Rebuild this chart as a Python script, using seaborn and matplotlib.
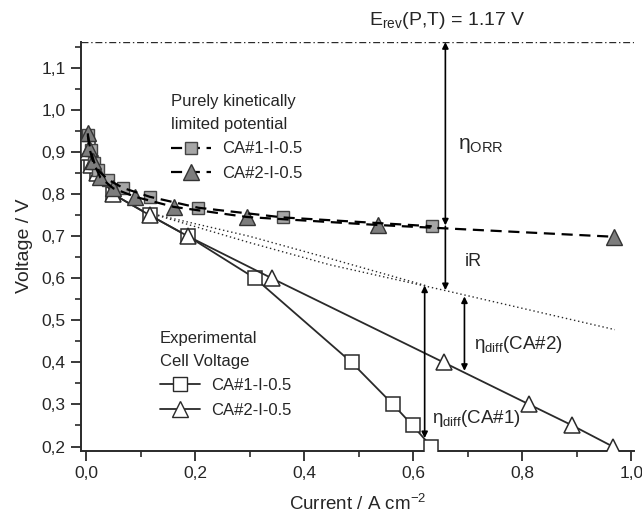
import numpy as np
import seaborn as sns
import matplotlib.pyplot as plt
from matplotlib.lines import Line2D
from matplotlib.ticker import FuncFormatter, MultipleLocator

# kinetically limited potential (grey filled markers, dashed)
kin_ca1_x = [0.003, 0.008, 0.015, 0.022, 0.04, 0.068, 0.117, 0.206, 0.361, 0.634]
kin_ca1_y = [0.94, 0.905, 0.875, 0.857, 0.835, 0.815, 0.794, 0.768, 0.745, 0.724]
kin_ca2_x = [0.003, 0.006, 0.012, 0.026, 0.05, 0.09, 0.161, 0.295, 0.535, 0.968]
kin_ca2_y = [0.945, 0.91, 0.88, 0.84, 0.814, 0.794, 0.77, 0.746, 0.727, 0.699]

# experimental cell voltage (open markers, solid)
exp_ca1_x = [0.003, 0.008, 0.02, 0.05, 0.117, 0.187, 0.31, 0.487, 0.563, 0.599, 0.633]
exp_ca1_y = [0.91, 0.875, 0.85, 0.80, 0.75, 0.70, 0.60, 0.40, 0.30, 0.25, 0.20]
exp_ca2_x = [0.003, 0.008, 0.02, 0.05, 0.117, 0.187, 0.341, 0.656, 0.813, 0.892, 0.966]
exp_ca2_y = [0.90, 0.87, 0.85, 0.80, 0.75, 0.70, 0.60, 0.40, 0.30, 0.25, 0.20]

# iR corrected kinetic lines (dotted)
ir_ca1_x = [0.117, 0.30, 0.448, 0.625]
ir_ca1_y = [0.755, 0.70, 0.647, 0.582]
ir_ca2_x = [0.117, 0.30, 0.448, 0.659, 0.97]
ir_ca2_y = [0.755, 0.685, 0.632, 0.571, 0.478]

e_rev = 1.162
legend_labels = ['CA#1-I-0.5', 'CA#2-I-0.5']

sns.set_style('ticks')
plt.rcParams['font.family'] = ['Liberation Sans', 'DejaVu Sans']
plt.rcParams['mathtext.fontset'] = 'custom'
plt.rcParams['mathtext.rm'] = 'Liberation Sans'
plt.rcParams['mathtext.it'] = 'Liberation Sans:italic'

fig, ax = plt.subplots(figsize=(6.42, 5.17), dpi=100)
fig.subplots_adjust(left=0.1257, right=0.9875, bottom=0.1282, top=0.9193)

dark = '#2a2a2a'
dash = (0, (5, 3))

# dotted iR-free lines
for xs, ys in [(ir_ca1_x, ir_ca1_y), (ir_ca2_x, ir_ca2_y)]:
    sns.lineplot(x=xs, y=ys, ax=ax, color=dark, lw=1.0, linestyle=(0, (1, 2)),
                 estimator=None, sort=False, zorder=2)

# experimental curves
sns.lineplot(x=exp_ca1_x, y=exp_ca1_y, ax=ax, color=dark, lw=1.3, marker='s', markersize=9.5,
             markerfacecolor='white', markeredgecolor=dark, markeredgewidth=1.1,
             estimator=None, sort=False, zorder=3)
sns.lineplot(x=exp_ca2_x, y=exp_ca2_y, ax=ax, color=dark, lw=1.3, marker='^', markersize=12,
             markerfacecolor='white', markeredgecolor=dark, markeredgewidth=1.1,
             estimator=None, sort=False, zorder=3)

# kinetic markers, then dashed lines on top
sns.lineplot(x=kin_ca1_x, y=kin_ca1_y, ax=ax, linestyle='', marker='s', markersize=9,
             markerfacecolor='#a6a6a6', markeredgecolor='#444444', markeredgewidth=1.0,
             estimator=None, sort=False, zorder=4)
sns.lineplot(x=kin_ca2_x, y=kin_ca2_y, ax=ax, linestyle='', marker='^', markersize=11,
             markerfacecolor='#7d7d7d', markeredgecolor='#333333', markeredgewidth=1.0,
             estimator=None, sort=False, zorder=4)
for xs, ys in [(kin_ca1_x, kin_ca1_y), (kin_ca2_x, kin_ca2_y)]:
    sns.lineplot(x=xs, y=ys, ax=ax, color='black', lw=1.6, linestyle=dash,
                 estimator=None, sort=False, zorder=5)

ax.axhline(e_rev, color=dark, lw=1.0, linestyle=(0, (5, 2, 1, 2)), zorder=1)

ax.set_xlim(-0.01, 1.005)
ax.set_ylim(0.19, 1.163)
sns.despine(ax=ax)
for s in ['left', 'bottom']:
    ax.spines[s].set_linewidth(1.4)
    ax.spines[s].set_color(dark)

comma = FuncFormatter(lambda v, _: f'{v:.1f}'.replace('.', ','))
ax.xaxis.set_major_locator(MultipleLocator(0.2))
ax.xaxis.set_minor_locator(MultipleLocator(0.1))
ax.yaxis.set_major_locator(MultipleLocator(0.1))
ax.yaxis.set_minor_locator(MultipleLocator(0.05))
ax.xaxis.set_major_formatter(comma)
ax.yaxis.set_major_formatter(comma)
ax.tick_params(which='major', direction='out', length=7, width=1.3, labelsize=12.5, color=dark, pad=4)
ax.tick_params(which='minor', direction='out', length=4.5, width=1.2, color=dark)

ax.set_xlabel('Current / A cm$^{\\mathregular{-2}}$', fontsize=13.5, labelpad=9)
ax.set_ylabel('Voltage / V', fontsize=14, labelpad=6)

# arrows
arr2 = dict(arrowstyle='<|-|>', color='black', lw=1.2, mutation_scale=9, shrinkA=0, shrinkB=0)
arr1 = dict(arrowstyle='-|>', color='black', lw=1.2, mutation_scale=9, shrinkA=0, shrinkB=0)
ax.annotate('', xy=(0.659, 0.726), xytext=(0.659, e_rev), arrowprops=arr2, zorder=6)
ax.annotate('', xy=(0.659, 0.572), xytext=(0.659, 0.724), arrowprops=arr1, zorder=6)
ax.annotate('', xy=(0.621, 0.22), xytext=(0.621, 0.583), arrowprops=arr2, zorder=6)
ax.annotate('', xy=(0.694, 0.38), xytext=(0.694, 0.557), arrowprops=arr2, zorder=6)

ax.text(0.683, 0.917, 'η$_{\\mathregular{ORR}}$', fontsize=15, va='center', ha='left')
ax.text(0.695, 0.639, 'iR', fontsize=13, va='center', ha='left')
ax.text(0.712, 0.442, 'η$_{\\mathregular{diff}}$(CA#2)', fontsize=13.5, va='center', ha='left')
ax.text(0.634, 0.267, 'η$_{\\mathregular{diff}}$(CA#1)', fontsize=13.5, va='center', ha='left')
ax.text(0.663, 1.053, 'E$_{\\mathregular{rev}}$(P,T) = 1.17 V', fontsize=14, va='center', ha='center',
        transform=ax.transAxes, clip_on=False)

# legends
kin_handles = [
    Line2D([], [], color='black', lw=1.6, linestyle=dash, marker='s', markersize=9,
           markerfacecolor='#a6a6a6', markeredgecolor='#444444'),
    Line2D([], [], color='black', lw=1.6, linestyle=dash, marker='^', markersize=11,
           markerfacecolor='#7d7d7d', markeredgecolor='#333333'),
]
exp_handles = [
    Line2D([], [], color=dark, lw=1.3, marker='s', markersize=9.5,
           markerfacecolor='white', markeredgecolor=dark),
    Line2D([], [], color=dark, lw=1.3, marker='^', markersize=12,
           markerfacecolor='white', markeredgecolor=dark),
]
leg_kw = dict(loc='upper left', frameon=False, fontsize=12, title_fontsize=12, borderpad=0,
              borderaxespad=0, handlelength=2.4, handletextpad=0.7, labelspacing=0.57)
leg1 = ax.legend(kin_handles, legend_labels, title='Purely kinetically\nlimited potential',
                 bbox_to_anchor=(0.163, 0.872), **leg_kw)
leg1._legend_box.align = 'left'
leg1.get_title().set_linespacing(1.66)
ax.add_artist(leg1)
leg2 = ax.legend(exp_handles, legend_labels, title='Experimental\nCell Voltage',
                 bbox_to_anchor=(0.143, 0.293), **leg_kw)
leg2._legend_box.align = 'left'
leg2.get_title().set_linespacing(1.66)

fig.savefig('out.png', dpi=100)
